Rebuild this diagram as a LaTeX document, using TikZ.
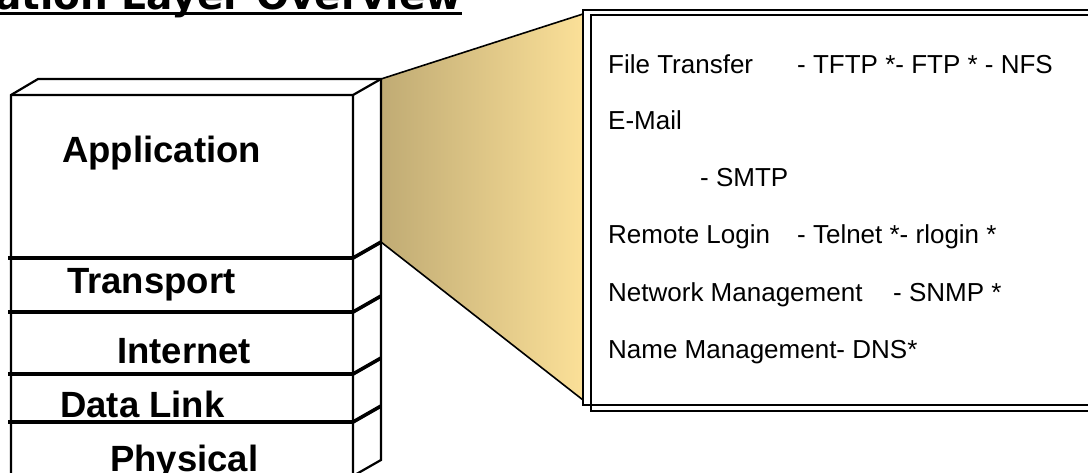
\documentclass[tikz,border=0pt]{standalone}
\usepackage{fontspec}
\setmainfont{Liberation Sans}
\newfontfamily\titlefont{DejaVu Sans}
\usepackage{tikz}
\usetikzlibrary{positioning,calc}
\definecolor{tanleft}{RGB}{192,171,116}
\definecolor{tanright}{RGB}{251,224,152}
\tikzset{
  layerline/.style={line width=3.6pt},
  outline/.style={line width=2.2pt,line join=miter},
  layerlabel/.style={anchor=base west,inner sep=0pt,font=\fontsize{36.5}{40}\selectfont\bfseries},
  protoline/.style={anchor=base west,inner sep=0pt,font=\fontsize{26}{28}\selectfont}
}
\begin{document}
\begin{tikzpicture}[x=1pt,y=-1pt]
  \useasboundingbox (0,0) rectangle (1088,472);
  % title, cut by the page top
  \node[anchor=base east,inner sep=0pt,font=\titlefont\bfseries\fontsize{39}{39}\selectfont] (title) at (462,9) {Application Layer Overview};
  \draw[line width=3pt] ([yshift=-4pt]title.base west) -- ([yshift=-4pt]title.base east);
  % zoom wedge
  \shade[left color=tanleft,right color=tanright] (381,79) -- (583,14) -- (583,400) -- (381,242) -- cycle;
  \draw[line width=1.6pt] (381,79) -- (583,14) (381,242) -- (583,400);
  % protocol box
  \draw[line width=2.5pt] (583,10) rectangle (1100,405);
  \draw[line width=2pt] (591,15) rectangle (1100,411);
  \node[protoline] (ft) at (608,73) {\makebox[189pt][l]{File Transfer}- TFTP *- FTP * - NFS};
  \node[protoline] (mail) at (608,129) {E-Mail};
  \node[protoline] (smtp) at (608,186) {\hspace*{92pt}- SMTP};
  \node[protoline] (rl) at (608,243) {\makebox[189pt][l]{Remote Login}- Telnet *- rlogin *};
  \node[protoline] (nm) at (608,301) {\makebox[285pt][l]{Network Management}- SNMP *};
  \node[protoline] (dns) at (608,358) {Name Management- DNS*};
  % layer stack
  \draw[outline] (11,490) -- (11,95) -- (38,79) -- (381,79) -- (381,460) -- (353,476) -- (353,490);
  \draw[outline] (11,95) -- (353,95) -- (381,79) (353,95) -- (353,476);
  \foreach \y in {258,312,374,422}
    \draw[layerline] (8,\y) -- (353,\y) -- ++(28,-16);
  \node[layerlabel] (app) at (62,162) {Application};
  \node[layerlabel] (trans) at (67,293) {Transport};
  \node[layerlabel] (inet) at (117,363) {Internet};
  \node[layerlabel] (dlink) at (60,417) {Data Link};
  \node[layerlabel] (phys) at (110,471) {Physical};
\end{tikzpicture}
\end{document}
